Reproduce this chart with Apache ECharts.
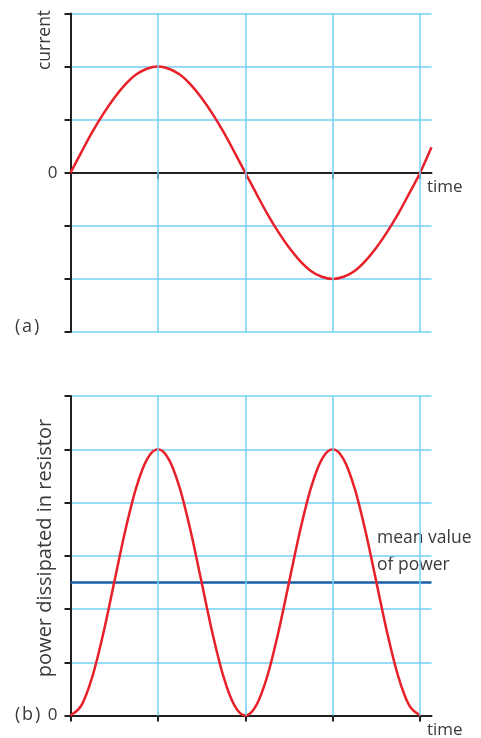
<!DOCTYPE html>
<html><head><meta charset="utf-8">
<script src="https://cdn.jsdelivr.net/npm/echarts@6/dist/echarts.min.js"></script>
<style>html,body{margin:0;padding:0;background:#fff}#c{width:481px;height:738px}</style>
</head><body><div id="c"></div>
<script>
// ---- data ----
const timeA = [0,0.125,0.25,0.375,0.5,0.625,0.75,0.875,1,1.125,1.25,1.375,1.5,1.625,1.75,1.875,2,
  2.125,2.25,2.375,2.5,2.625,2.75,2.875,3,3.125,3.25,3.375,3.5,3.625,3.75,3.875,4,4.13];
const current = [0,0.39,0.77,1.11,1.41,1.66,1.85,1.96,2,1.96,1.85,1.66,1.41,1.11,0.77,0.39,0,
  -0.39,-0.77,-1.11,-1.41,-1.66,-1.85,-1.96,-2,-1.96,-1.85,-1.66,-1.41,-1.11,-0.77,-0.39,0,0.48];
const timeB = [0,0.125,0.25,0.375,0.5,0.625,0.75,0.875,1,1.125,1.25,1.375,1.5,1.625,1.75,1.875,2,
  2.125,2.25,2.375,2.5,2.625,2.75,2.875,3,3.125,3.25,3.375,3.5,3.625,3.75,3.875,4];
const power = [0,0.19,0.73,1.54,2.5,3.46,4.27,4.81,5,4.81,4.27,3.46,2.5,1.54,0.73,0.19,0,
  0.19,0.73,1.54,2.5,3.46,4.27,4.81,5,4.81,4.27,3.46,2.5,1.54,0.73,0.19,0];
const meanTime = [0,4.13];
const meanPower = [2.5,2.5];
const gridX = [1,2,3,4];
const tickX = [0,1,2,3,4];
const rangeCurrent = [-3,3];
const rangePower = [0,6];
const timeMax = 4.13;

// ---- styles ----
const axisColor = '#231f20', gridColor = '#74d0f4', red = '#e8202a', blue = '#1b5ea8', textColor = '#3a3a3a';
const font = '"Open Sans", sans-serif';

function yAx(gi, r){ return {type:'value', gridIndex:gi, min:r[0], max:r[1], interval:1,
  axisLine:{show:true, onZero:false, lineStyle:{color:axisColor,width:2}},
  axisTick:{show:true, inside:false, length:6, lineStyle:{color:axisColor,width:2}},
  axisLabel:{formatter:v=>v===0?'0':'', margin:13, color:textColor, fontSize:17, fontFamily:font},
  splitLine:{show:true, lineStyle:{color:gridColor,width:1.5}}};}
function xAx(gi){ return {type:'value', gridIndex:gi, min:0, max:timeMax, interval:1,
  axisLine:{show:true,onZero:true, lineStyle:{color:axisColor,width:2}},
  axisTick:{show:true, customValues:tickX, length:6, lineStyle:{color:axisColor,width:2}},
  axisLabel:{show:false}, splitLine:{show:false}};}
function vGrid(gi){ return {type:'line', xAxisIndex:gi, yAxisIndex:gi, z:-1, silent:true,
  data:[[0,0]], symbol:'none', lineStyle:{opacity:0},
  markLine:{silent:true, symbol:['none','none'], label:{show:false},
    lineStyle:{color:gridColor,width:1.5,type:'solid'}, animation:false,
    data:gridX.map(v=>({xAxis:v}))}};}
// smooth curve through the data points, positioned with the axes' scales (api.coord)
function curve(gi, xs, ys){
  return {type:'custom', coordinateSystem:'cartesian2d', xAxisIndex:gi, yAxisIndex:gi, z:3, silent:true,
    data:[[xs[0], ys[0]]],
    renderItem:function(params, api){
      const p = xs.map((t,i)=>api.coord([t, ys[i]]));
      let d = 'M' + p[0][0] + ' ' + p[0][1];
      for (let i=0;i<p.length-1;i++){
        const a = p[Math.max(i-1,0)], b = p[i], c = p[i+1], e = p[Math.min(i+2,p.length-1)];
        const c1 = [b[0]+(c[0]-a[0])/6, b[1]+(c[1]-a[1])/6];
        const c2 = [c[0]-(e[0]-b[0])/6, c[1]-(e[1]-b[1])/6];
        d += ' C' + c1[0] + ' ' + c1[1] + ' ' + c2[0] + ' ' + c2[1] + ' ' + c[0] + ' ' + c[1];
      }
      return {type:'path', shape:{pathData:d}, style:{stroke:red, fill:'none', lineWidth:2.5, lineJoin:'round'}};
    }};
}

const chart = echarts.init(document.getElementById('c'));
function txt(x,y,s,size){ return {type:'text', x, y, style:{text:s, fill:textColor,
  font:(size||17)+'px "Open Sans", sans-serif', textAlign:'left', textVerticalAlign:'middle'}}; }
chart.setOption({
  animation:false,
  grid:[{left:70.5, top:13.5, width:361, height:318.5},
        {left:70.5, top:396, width:361, height:319.5}],
  xAxis:[xAx(0), xAx(1)],
  yAxis:[yAx(0, rangeCurrent), yAx(1, rangePower)],
  series:[
    vGrid(0), vGrid(1),
    curve(0, timeA, current),
    {type:'line', xAxisIndex:1, yAxisIndex:1, data:meanTime.map((t,i)=>[t,meanPower[i]]),
      symbol:'none', lineStyle:{color:blue,width:2.5}, z:2},
    curve(1, timeB, power)
  ],
  graphic:[
    txt(427,187,'time'),
    txt(427,730,'time'),
    {type:'text', x:45, y:40, rotation:Math.PI/2, style:{text:'current', fill:textColor,
      font:'17.5px "Open Sans", sans-serif', textAlign:'center', textVerticalAlign:'middle'}},
    {type:'text', x:45, y:548, rotation:Math.PI/2, style:{text:'power dissipated in resistor', fill:textColor,
      font:'20px "Open Sans", sans-serif', textAlign:'center', textVerticalAlign:'middle'}},
    txt(15,327,'(\u200Aa\u200A)',18),
    txt(15,715,'(\u200Ab\u200A)',18),
    txt(377,538,'mean value',17.5),
    txt(377,565,'of power',17.5)
  ]
});
</script></body></html>
